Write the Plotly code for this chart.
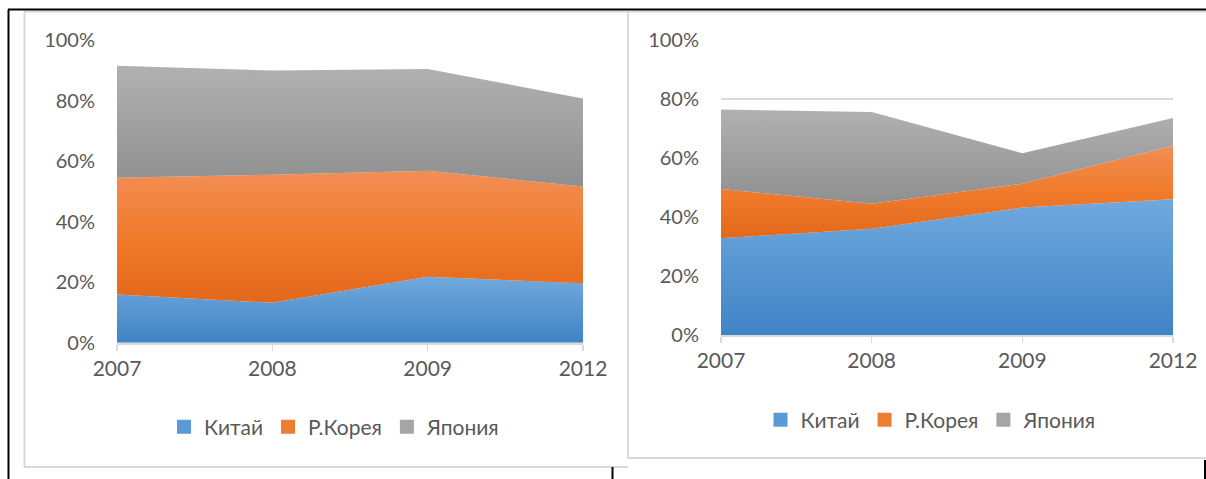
import plotly.graph_objects as go

# ---- data (percent shares) ----
years = ["2007", "2008", "2009", "2012"]
series_names = ["Китай", "Р.Корея", "Япония"]

left_china = [15.9, 13.2, 21.8, 19.6]
left_korea = [38.6, 42.3, 35.0, 32.0]
left_japan = [37.0, 34.4, 33.6, 29.1]

right_china = [32.8, 36.0, 43.2, 46.0]
right_korea = [16.7, 8.5, 8.1, 18.2]
right_japan = [26.9, 31.1, 10.3, 9.4]

y_ticks = [0, 20, 40, 60, 80, 100]
y_tick_labels = ["0%", "20%", "40%", "60%", "80%", "100%"]

# ---- style ----
W, H = 1206, 479
FONT = "Lato, 'Liberation Sans', 'Noto Sans', sans-serif"
TXT = "#595959"
GRID = "#d9d9d9"

grad = {
    "Китай": [[0, "#4083c6"], [1, "#70a9de"]],
    "Р.Корея": [[0, "#e3671a"], [0.5, "#f07b2b"], [1, "#f28e55"]],
    "Япония": [[0, "#8f8f8f"], [1, "#b1b1b1"]],
}
solid = {"Китай": "#5b9bd5", "Р.Корея": "#ed7d31", "Япония": "#a5a5a5"}


def px(x):
    return x / W


def py(y):
    return 1 - y / H


fig = go.Figure()
xs = list(range(len(years)))


def add_stack(values_list, xa, ya, group, legend_name):
    lower = [0.0] * len(years)
    for name, vals in zip(series_names, values_list):
        upper = [l + v for l, v in zip(lower, vals)]
        fig.add_trace(go.Scatter(
            x=xs, y=vals, stackgroup=group, mode="none",
            fillgradient=dict(type="vertical", colorscale=grad[name],
                              start=min(lower), stop=max(upper)),
            xaxis=xa, yaxis=ya, showlegend=False, hoverinfo="skip",
        ))
        lower = upper
    for name in series_names:
        fig.add_trace(go.Scatter(
            x=[None], y=[None], mode="markers", name=name,
            marker=dict(symbol="square", size=14, color=solid[name]),
            xaxis=xa, yaxis=ya, legend=legend_name, showlegend=True,
        ))


add_stack([left_china, left_korea, left_japan], "x", "y", "L", "legend")
add_stack([right_china, right_korea, right_japan], "x2", "y2", "R", "legend2")

xcommon = dict(
    range=[0, len(years) - 1], tickvals=xs, ticktext=years,
    showline=True, linecolor=GRID, linewidth=2,
    ticks="outside", ticklen=6, tickcolor=GRID, tickwidth=1.5,
    showgrid=False, zeroline=False, automargin=False,
    tickfont=dict(size=21, color=TXT, family=FONT), fixedrange=True,
)
ycommon = dict(
    range=[0, 100], tickvals=y_ticks, ticktext=y_tick_labels,
    showgrid=True, gridcolor=GRID, gridwidth=1.5, zeroline=False,
    showline=False, ticks="", ticklabelstandoff=21, automargin=False,
    tickfont=dict(size=20, color=TXT, family=FONT), fixedrange=True,
)

legcommon = dict(
    orientation="h", xanchor="center", yanchor="middle",
    traceorder="normal",
    font=dict(size=21, color=TXT, family=FONT),
    bgcolor="rgba(0,0,0,0)", itemclick=False, itemdoubleclick=False,
)

fig.update_layout(
    width=W, height=H, autosize=False,
    margin=dict(l=0, r=0, t=0, b=0, pad=0, autoexpand=False),
    paper_bgcolor="white", plot_bgcolor="white",
    font=dict(family=FONT, color=TXT),
    xaxis=dict(domain=[px(117), px(583)], anchor="y", **xcommon),
    yaxis=dict(domain=[py(342.7), py(40)], anchor="x", **ycommon),
    xaxis2=dict(domain=[px(721), px(1173)], anchor="y2", **xcommon),
    yaxis2=dict(domain=[py(335), py(40)], anchor="x2", **ycommon),
    legend=dict(x=px(334.5), y=py(427), **legcommon),
    legend2=dict(x=px(931), y=py(420), **legcommon),
)

# frame lines (panel borders and page border)
def hline(x0, x1, y, color, w):
    fig.add_shape(type="line", xref="paper", yref="paper",
                  x0=px(x0), x1=px(x1), y0=py(y), y1=py(y),
                  line=dict(color=color, width=w))


def vline(x, y0, y1, color, w):
    fig.add_shape(type="line", xref="paper", yref="paper",
                  x0=px(x), x1=px(x), y0=py(y0), y1=py(y1),
                  line=dict(color=color, width=w))


PANEL = "#d9d9d9"
hline(24, 627, 11.5, PANEL, 2)
vline(24.5, 11, 467, PANEL, 2)
hline(24, 628, 467, PANEL, 2)
vline(628, 11, 458, PANEL, 2)
hline(628, 1206, 458, PANEL, 2)
hline(628, 1206, 11.5, PANEL, 2)

BLACK = "#000000"
hline(8, 1206, 9.5, BLACK, 2)
vline(8.5, 9.5, 479, BLACK, 2)
vline(612.5, 467, 479, BLACK, 2)
vline(1205, 460, 479, BLACK, 2)

fig.write_html(
    "out.html",
    config={"displayModeBar": False, "staticPlot": True},
    post_script="document.body.style.margin='0';"
                "document.body.style.overflow='hidden';",
)
